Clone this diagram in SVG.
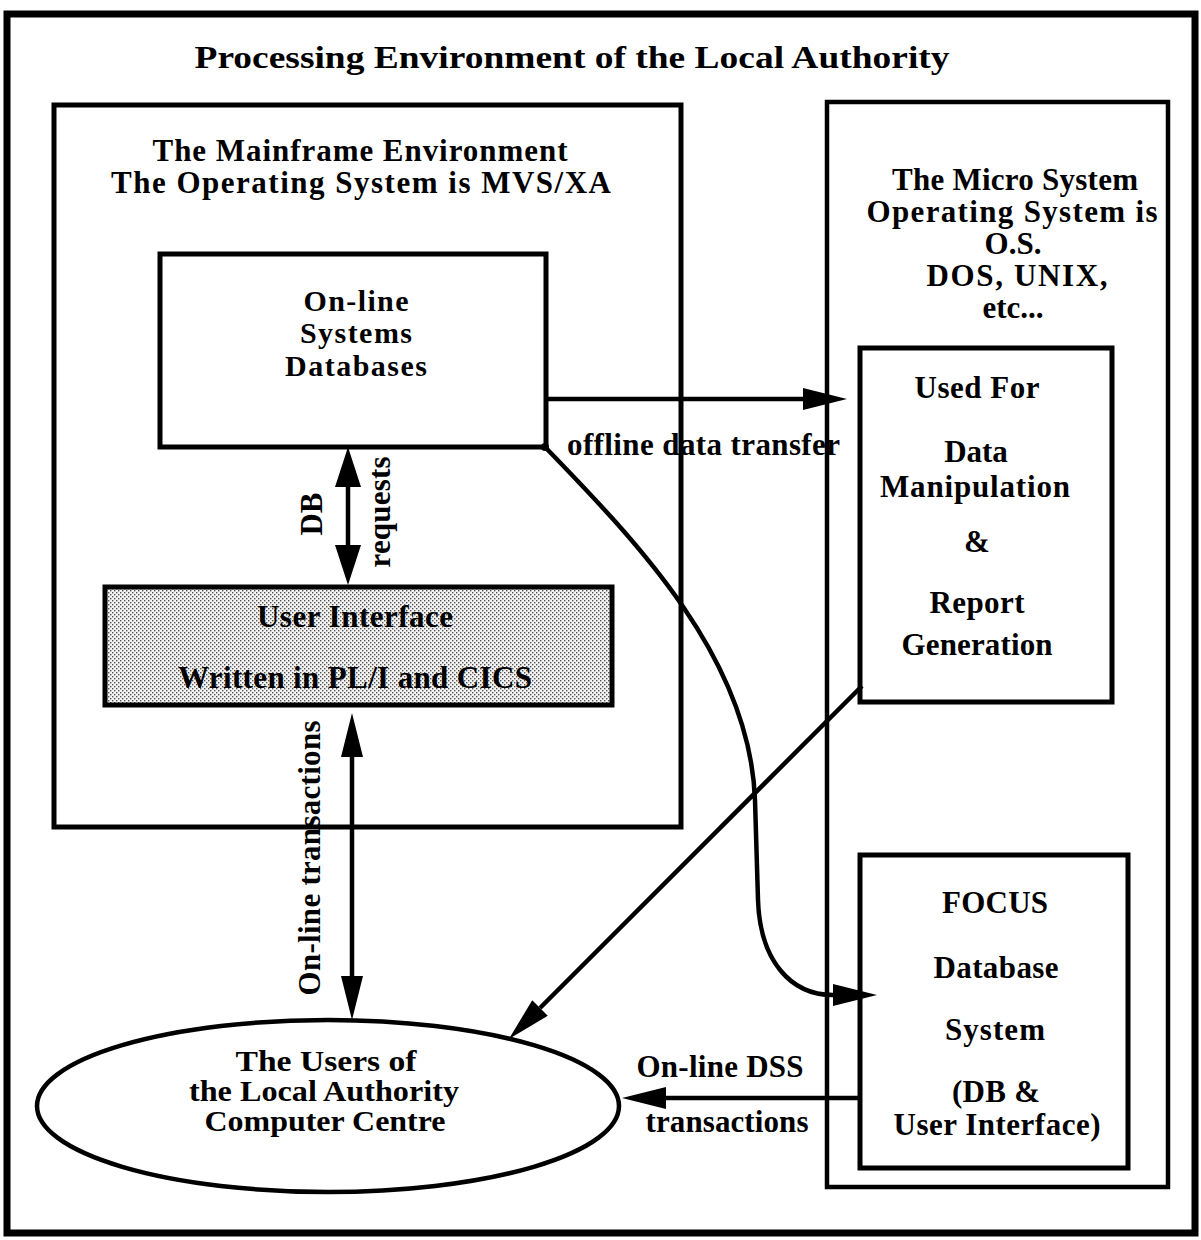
<svg xmlns="http://www.w3.org/2000/svg" width="1201" height="1240" viewBox="0 0 1201 1240">
  <defs>
    <style>
      text { font-family: "Liberation Serif", "Times New Roman", serif; font-weight: bold; font-size: 31px; fill: #000; }
      .c { text-anchor: middle; }
      .box { fill: none; stroke: #000; stroke-width: 5; }
      .ln { fill: none; stroke: #000; stroke-width: 4.5; }
      .sm { font-size: 30px; }
    </style>
    <!-- light dotted screen used for the user-interface layer -->
    <pattern id="stipple" width="4" height="4" patternUnits="userSpaceOnUse">
      <rect width="4" height="4" fill="#f4f4f4"/>
      <rect x="0" y="0" width="1.4" height="1.4" fill="#555"/>
      <rect x="2" y="2" width="1.4" height="1.4" fill="#555"/>
    </pattern>
    <marker id="arrow" viewBox="0 0 44 22" refX="0" refY="11" markerWidth="44" markerHeight="22" markerUnits="userSpaceOnUse" orient="auto-start-reverse">
      <path d="M0,0 L44,11 L0,22 Z" fill="#000"/>
    </marker>
    <marker id="arrowDB" viewBox="0 0 40 26" refX="0" refY="13" markerWidth="40" markerHeight="26" markerUnits="userSpaceOnUse" orient="auto-start-reverse">
      <path d="M0,0 L40,13 L0,26 Z" fill="#000"/>
    </marker>
  </defs>

  <rect width="1201" height="1240" fill="#fff"/>

  <!-- outer frame and heading -->
  <g id="frame">
    <rect x="7" y="14" width="1188" height="1219" fill="none" stroke="#000" stroke-width="7"/>
    <text class="c" x="572" y="68" font-size="37" textLength="755" lengthAdjust="spacingAndGlyphs">Processing Environment of the Local Authority</text>
  </g>

  <!-- mainframe environment -->
  <g id="mainframe">
    <rect class="box" x="54" y="105" width="627" height="722"/>
    <text class="c" x="360" y="161" font-size="29" textLength="415">The  Mainframe Environment</text>
    <text class="c" x="361" y="193" font-size="29" textLength="500">The  Operating  System  is  MVS/XA</text>
  </g>

  <g id="online-db">
    <rect class="box" x="160" y="254" width="386" height="193"/>
    <text class="c sm" x="356" y="311" textLength="105">On-line</text>
    <text class="c sm" x="356" y="343" textLength="112">Systems</text>
    <text class="c sm" x="356" y="376" textLength="142">Databases</text>
  </g>

  <g id="user-interface">
    <rect x="105" y="587" width="507" height="118" fill="url(#stipple)" stroke="#000" stroke-width="5"/>
    <text class="c" x="355" y="627" textLength="196">User Interface</text>
    <text class="c" x="355" y="688" textLength="354">Written in PL/I and CICS</text>
  </g>

  <!-- micro system -->
  <g id="micro">
    <rect x="827" y="102" width="341" height="1085" fill="none" stroke="#000" stroke-width="4.5"/>
    <text class="c" x="1015" y="190" textLength="246">The Micro System</text>
    <text class="c" x="1012" y="222" textLength="291">Operating  System  is</text>
    <text class="c" x="1013" y="254">O.S.</text>
    <text class="c" x="1017" y="286" textLength="181">DOS,  UNIX,</text>
    <text class="c" x="1013" y="318">etc...</text>
  </g>

  <g id="used-for">
    <rect class="box" x="860" y="348" width="252" height="354"/>
    <text class="c" x="977" y="398" textLength="125">Used For</text>
    <text class="c" x="976" y="462">Data</text>
    <text class="c" x="975" y="497" textLength="190">Manipulation</text>
    <text class="c" x="977" y="552">&amp;</text>
    <text class="c" x="977" y="613" textLength="95">Report</text>
    <text class="c" x="977" y="655" textLength="151">Generation</text>
  </g>

  <g id="focus">
    <rect class="box" x="860" y="855" width="268" height="313"/>
    <text class="c" x="995" y="913" textLength="106">FOCUS</text>
    <text class="c" x="996" y="978" textLength="125">Database</text>
    <text class="c" x="995" y="1040" textLength="100">System</text>
    <text class="c" x="996" y="1102" textLength="88">(DB &amp;</text>
    <text class="c" x="997" y="1135" textLength="207">User Interface)</text>
  </g>

  <g id="users">
    <ellipse cx="328" cy="1106" rx="291" ry="86" fill="none" stroke="#000" stroke-width="4.5"/>
    <text class="c sm" x="326" y="1071" textLength="181" lengthAdjust="spacingAndGlyphs">The  Users of</text>
    <text class="c sm" x="324" y="1101" textLength="270" lengthAdjust="spacingAndGlyphs">the Local Authority</text>
    <text class="c sm" x="325" y="1131" textLength="241" lengthAdjust="spacingAndGlyphs">Computer Centre</text>
  </g>

  <!-- connectors -->
  <g id="connectors">
    <!-- DB requests -->
    <path class="ln" d="M348,487 L348,545" stroke-width="4" marker-start="url(#arrowDB)" marker-end="url(#arrowDB)"/>
    <text class="c" transform="translate(322,514) rotate(-90)">DB</text>
    <text class="c" transform="translate(390,512) rotate(-90)" textLength="111">requests</text>

    <!-- offline data transfer -->
    <path class="ln" d="M546,399 L803,399" marker-end="url(#arrow)"/>
    <text x="567" y="455" textLength="273">offline data transfer</text>

    <!-- on-line transactions -->
    <path class="ln" d="M352,757 L352,976" stroke-width="3.5" marker-start="url(#arrow)" marker-end="url(#arrow)"/>
    <text class="c" transform="translate(320,858) rotate(-90)" textLength="275">On-line transactions</text>

    <!-- extract to FOCUS -->
    <circle cx="545" cy="447" r="4"/>
    <path class="ln" d="M545,447 C640,545 750,660 755,800 L758,900 C760,960 790,995 833,995" stroke-width="4" marker-end="url(#arrow)"/>

    <!-- reports to users -->
    <path class="ln" d="M862,686 L540,1008" stroke-width="6" marker-end="url(#arrow)"/>

    <!-- on-line DSS transactions -->
    <path class="ln" d="M860,1098 L666,1098" marker-end="url(#arrow)"/>
    <text class="c" x="720" y="1077" textLength="167">On-line DSS</text>
    <text class="c" x="727" y="1132" textLength="163">transactions</text>
  </g>
</svg>
